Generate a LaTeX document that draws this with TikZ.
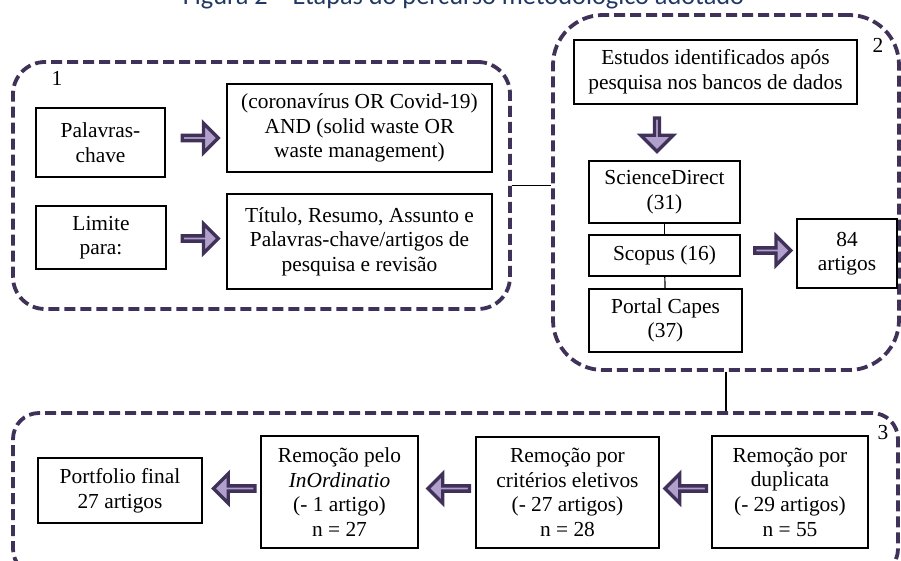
\documentclass[tikz,border=0pt]{standalone}
\usepackage{fontspec}
\setmainfont{Liberation Serif}
\newfontfamily\captionfont{Carlito}
\usetikzlibrary{shapes.arrows}
\definecolor{groupviolet}{RGB}{64,49,89}
\definecolor{arrowlilac}{RGB}{177,160,203}
\definecolor{captionblue}{RGB}{31,56,100}

\begin{document}
\begin{tikzpicture}[x=0.5pt, y=-0.5pt,
    stagebox/.style={draw, line width=0.6pt, align=center, inner sep=1pt,
        font=\fontsize{10.7}{12.3}\selectfont},
    group/.style={draw=groupviolet, line width=1.9pt, dash pattern=on 5.5pt off 2.5pt,
        rounded corners=16pt, inner sep=0pt},
    fatarrow/.style={single arrow, draw=groupviolet, fill=arrowlilac, line width=1.7pt,
        inner sep=0pt, single arrow head indent=0pt, minimum height=18pt,
        minimum width=14.75pt, single arrow head extend=4pt},
    grouplabel/.style={font=\fontsize{10.7}{12.3}\selectfont}]

    \clip (0,0) rectangle (901,561);

    % Titulo
    \node[font=\captionfont\fontsize{13.15}{15}\selectfont, text=captionblue, anchor=base]
        (caption) at (463.5,5) {Figura 2 – Etapas do percurso metodológico adotado};

    % Grupos tracejados
    \node[group, minimum width=248.5pt, minimum height=123.5pt] (grp1) at (261.5,185.5) {};
    \node[group, minimum width=173pt, minimum height=177.5pt, rounded corners=25pt] (grp2) at (726,192.5) {};
    \node[group, minimum width=442.5pt, minimum height=81pt, rounded corners=13pt] (grp3) at (455.5,494) {};
    \node[grouplabel] (lab1) at (57,78) {1};
    \node[grouplabel] (lab2) at (878,45) {2};
    \node[grouplabel] (lab3) at (883,433) {3};

    % Etapa 1
    \node[stagebox, minimum width=64.5pt, minimum height=34.5pt] (pal) at (100.5,142.5) {Palavras-\\chave};
    \node[stagebox, minimum width=132.5pt, minimum height=44pt] (query) at (359.5,128)
        {(coronavírus OR Covid-19)\\AND (solid waste OR\\waste management)};
    \node[stagebox, minimum width=65pt, minimum height=31.5pt] (lim) at (101,237.5) {Limite\\para:};
    \node[stagebox, minimum width=132.5pt, minimum height=47.5pt] (tit) at (359.5,241.5)
        {Título, Resumo, Assunto e\\Palavras-chave/artigos de\\pesquisa e revisão};
    \node[fatarrow] (arr1) at (199,138) {};
    \node[fatarrow] (arr2) at (199,238.5) {};

    % Etapa 2
    \node[stagebox, minimum width=141.5pt, minimum height=32pt] (est) at (715.5,72)
        {Estudos identificados após\\pesquisa nos bancos de dados};
    \node[fatarrow, shape border rotate=270, minimum height=16.75pt, minimum width=16.25pt,
        single arrow head extend=4.75pt] (arr3) at (657,133.5) {};
    \node[stagebox, minimum width=75.5pt, minimum height=31pt] (sd) at (664.5,192) {ScienceDirect\\(31)};
    \node[stagebox, minimum width=75.5pt, minimum height=20.5pt] (sco) at (664.5,255.5) {Scopus (16)};
    \node[stagebox, minimum width=76.5pt, minimum height=31.5pt] (cap) at (665.5,320.5) {Portal Capes\\(37)};
    \node[fatarrow] (arr4) at (771.5,250.5) {};
    \node[stagebox, minimum width=50pt, minimum height=34.5pt] (art) at (847,253.5) {84\\artigos};
    \draw[line width=0.6pt] (sd) -- (sco);
    \draw[line width=0.6pt] (sco) -- (cap);

    % Etapa 3
    \node[stagebox, minimum width=82pt, minimum height=32.5pt] (port) at (120,490.5) {Portfolio final\\27 artigos};
    \node[stagebox, minimum width=78.5pt, minimum height=56pt] (ino) at (339.5,492)
        {Remoção pelo\\\textit{InOrdinatio}\\(- 1 artigo)\\n = 27};
    \node[stagebox, minimum width=91.5pt, minimum height=55.5pt] (cri) at (567.5,492.5)
        {Remoção por\\critérios eletivos\\(- 27 artigos)\\n = 28};
    \node[stagebox, minimum width=78pt, minimum height=56pt] (dup) at (790,492)
        {Remoção por\\duplicata\\(- 29 artigos)\\n = 55};
    \foreach \x/\name in {235.5/arr5, 450/arr6, 687/arr7} {
        \node[fatarrow, shape border rotate=180, minimum height=20.75pt] (\name) at (\x,488.5) {};
    }

    % Ligacoes entre grupos
    \draw[line width=0.6pt] (grp1.east) -- (grp1.east -| grp2.west);
    \draw[line width=0.6pt] (grp2.south) -- (grp2.south |- grp3.north);
\end{tikzpicture}
\end{document}
